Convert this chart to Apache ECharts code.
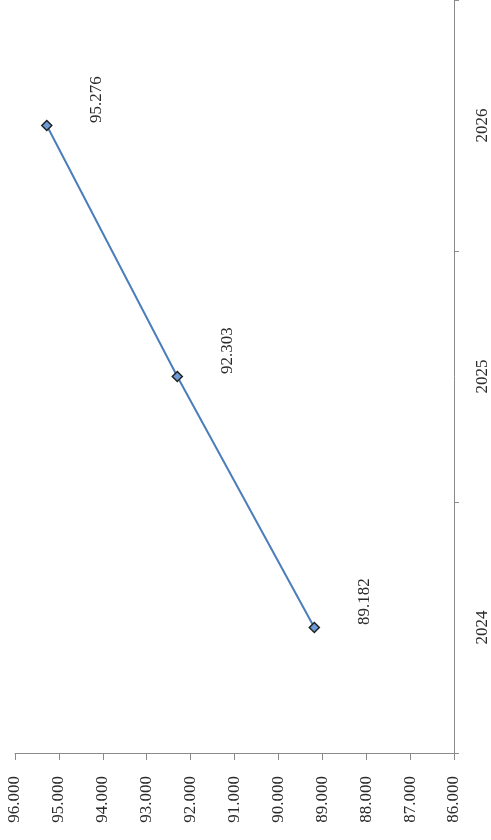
<!DOCTYPE html>
<html>
<head>
<meta charset="utf-8">
<script src="https://cdn.jsdelivr.net/npm/echarts@6/dist/echarts.min.js"></script>
<style>html,body{margin:0;padding:0;background:#fff;}#c{width:491px;height:840px;}</style>
</head>
<body>
<div id="c"></div>
<script>
var categories = ['2024', '2025', '2026'];
var values = [89.182, 92.303, 95.276];
var valueMin = 86, valueMax = 96, valueStep = 1;

var chart = echarts.init(document.getElementById('c'));
var font = '"Liberation Serif", "DejaVu Serif", serif';
chart.setOption({
  backgroundColor: '#ffffff',
  animation: false,
  grid: { left: 15, right: 34, top: 0, bottom: 87, containLabel: false },
  xAxis: {
    type: 'value', inverse: true, position: 'bottom',
    min: valueMin, max: valueMax, interval: valueStep,
    splitLine: { show: false },
    axisLine: { show: true, lineStyle: { color: '#8a8a8a', width: 1 } },
    axisTick: { show: true, length: 7, lineStyle: { color: '#8a8a8a' } },
    axisLabel: {
      rotate: 90, margin: 23, color: '#2a2a2a', fontFamily: font, fontSize: 17,
      formatter: function (v) { return v.toFixed(3); }
    }
  },
  yAxis: {
    type: 'category', position: 'right', data: categories, boundaryGap: true,
    axisLine: { show: true, lineStyle: { color: '#8a8a8a', width: 1 } },
    axisTick: { show: true, length: 5, alignWithLabel: false, lineStyle: { color: '#8a8a8a' } },
    axisLabel: { rotate: 90, margin: 20, color: '#2a2a2a', fontFamily: font, fontSize: 17 },
    splitLine: { show: false }
  },
  series: [{
    type: 'line',
    data: values,
    symbol: 'diamond', symbolSize: 10,
    lineStyle: { color: '#4a7ebb', width: 2 },
    itemStyle: { color: '#6d9bd6', borderColor: '#222', borderWidth: 1.5 },
    label: {
      show: true, position: 'inside', rotate: 90, offset: [26, 50],
      color: '#2a2a2a', fontFamily: font, fontSize: 17,
      formatter: function (p) { return p.value.toFixed(3); }
    }
  }]
});
</script>
</body>
</html>
